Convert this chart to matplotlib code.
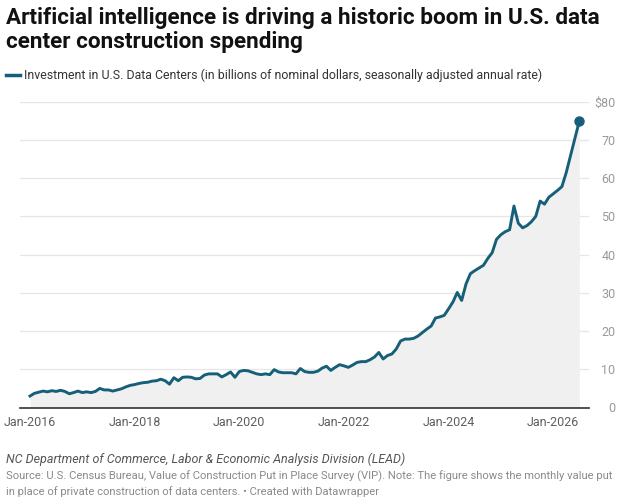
import numpy as np
import matplotlib.pyplot as plt

# Monthly values, Jan-2016 onward (billions of nominal dollars, SAAR)
values = [
    3.0, 3.7, 4.0, 4.3, 4.1, 4.4, 4.2, 4.5, 4.2, 3.6, 3.9, 4.3,       # 2016
    3.9, 4.1, 3.9, 4.2, 5.0, 4.6, 4.6, 4.3, 4.6, 4.9, 5.4, 5.8,       # 2017
    6.0, 6.3, 6.5, 6.6, 6.9, 7.0, 7.4, 7.0, 6.1, 7.8, 7.0, 7.9,       # 2018
    8.0, 7.9, 7.5, 7.6, 8.5, 8.8, 8.8, 8.8, 8.0, 8.6, 9.3, 7.9,       # 2019
    9.4, 9.7, 9.6, 9.2, 8.8, 8.6, 8.8, 8.6, 9.9, 9.3, 9.1, 9.1,       # 2020
    9.1, 8.8, 10.2, 9.4, 9.2, 9.2, 9.5, 10.3, 10.8, 9.7, 10.5, 11.2,  # 2021
    10.9, 10.5, 11.1, 11.8, 12.0, 12.0, 12.5, 13.2, 14.4, 12.7, 13.6, 14.0,  # 2022
    15.3, 17.4, 17.9, 17.9, 18.1, 18.7, 19.6, 20.5, 21.3, 23.4, 23.7, 24.1,  # 2023
    25.8, 27.6, 30.1, 28.0, 32.3, 35.0, 35.8, 36.5, 37.2, 39.0, 40.5, 44.0,  # 2024
    45.2, 46.0, 46.5, 52.7, 48.2, 47.0, 47.6, 48.6, 50.0, 54.0, 53.2, 55.0,  # 2025
    55.9, 56.8, 57.8, 61.5, 66.0, 70.5, 75.0,                          # 2026
]
tick_months = [0, 24, 48, 72, 96, 120]
tick_labels = ["Jan-2016", "Jan-2018", "Jan-2020", "Jan-2022", "Jan-2024", "Jan-2026"]
y_ticks = [0, 10, 20, 30, 40, 50, 60, 70, 80]
y_labels = ["0", "10", "20", "30", "40", "50", "60", "70", "$80"]

title = "Artificial intelligence is driving a historic boom in U.S. data\ncenter construction spending"
legend_text = "Investment in U.S. Data Centers (in billions of nominal dollars, seasonally adjusted annual rate)"
byline = "NC Department of Commerce, Labor & Economic Analysis Division (LEAD)"
source = ("Source: U.S. Census Bureau, Value of Construction Put in Place Survey (VIP). Note: The figure shows the monthly value put\n"
          "in place of private construction of data centers. \u2022 Created with Datawrapper")

plt.rcParams['font.family'] = ['Roboto', 'DejaVu Sans']

line_color = "#165f78"
months = np.arange(len(values))

W, H = 622, 500
fig = plt.figure(figsize=(W / 100, H / 100), dpi=100)
ax = fig.add_axes([20 / W, (H - 407.5) / H, 569 / W, 305.8 / H])

ax.fill_between(months, values, 0, color="#f0f0f0", lw=0, zorder=1)
ax.plot(months, values, color=line_color, lw=2.1, solid_joinstyle="round", zorder=3)
ax.plot(months[-1], values[-1], "o", color=line_color, ms=6.5, zorder=4)

ax.set_xlim((20 - 30) / 4.36, (589 - 30) / 4.36)
ax.set_ylim(0, 80)
ax.set_yticks(y_ticks)
ax.set_yticklabels(y_labels)
ax.yaxis.tick_right()
ax.tick_params(axis="y", length=0, pad=19, labelsize=9, labelcolor="#9a9a9a")
for lab in ax.get_yticklabels():
    lab.set_horizontalalignment("right")
ax.set_xticks(tick_months)
ax.set_xticklabels(tick_labels)
ax.tick_params(axis="x", length=0, pad=6, labelsize=9, labelcolor="#5e5e5e")

for y in y_ticks[1:]:
    ax.axhline(y, color="#e6e6e6", lw=0.9, zorder=0)
ax.axhline(0, color="#333333", lw=1.2, zorder=5, clip_on=False)
for s in ax.spines.values():
    s.set_visible(False)

fig.text(6 / W, 1 - 7 / H, title, fontsize=16.2, fontweight="bold", color="#111111",
         va="top", ha="left", linespacing=1.12)
fig.add_artist(plt.Line2D([6 / W, 20 / W], [1 - 75 / H] * 2, color=line_color, lw=2.5))
fig.text(24 / W, 1 - 75 / H, legend_text, fontsize=8.9, color="#333333", va="center", ha="left")
fig.text(6 / W, 1 - 459 / H, byline, fontsize=9.0, style="italic", color="#555555",
         va="center", ha="left")
fig.text(6 / W, 1 - 471 / H, source, fontsize=8.1, color="#8a8a8a", va="top", ha="left",
         linespacing=1.35)

fig.savefig("out.png", dpi=100)
